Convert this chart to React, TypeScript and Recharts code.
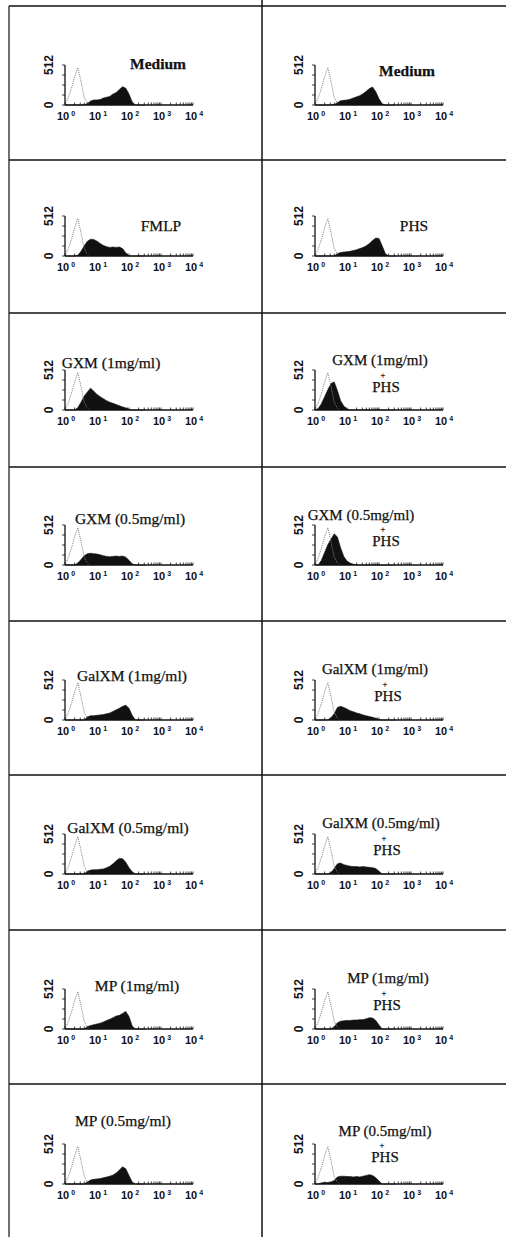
import { Area, ComposedChart, Line, XAxis, YAxis } from "recharts";

// fluorescence channel, in decades (10^x)
const bins = [0, 0.1, 0.2, 0.3, 0.4, 0.5, 0.6, 0.7, 0.8, 0.9, 1.0, 1.1, 1.2, 1.3, 1.4, 1.5, 1.6, 1.7, 1.8, 1.9, 2.0, 2.1, 2.2, 2.3, 2.4, 2.5];

// dotted control histogram, drawn in every panel
const isotype = [5, 90, 210, 360, 480, 300, 100, 20, 0, null, null, null, null, null, null, null, null, null, null, null, null, null, null, null, null, null];

// filled histograms, left column
const medium = [0, 0, 0, 0, 0, 0, 0, 20, 50, 65, 65, 70, 90, 100, 110, 140, 160, 200, 235, 215, 140, 40, 0, 0, 0, 0];
const fmlp = [0, 0, 0, 0, 10, 60, 130, 190, 215, 210, 190, 160, 135, 120, 110, 115, 110, 115, 95, 40, 0, 0, 0, 0, 0, 0];
const gxm1 = [0, 0, 0, 0, 30, 100, 180, 230, 280, 240, 200, 170, 145, 120, 100, 85, 70, 55, 40, 25, 10, 0, 0, 0, 0, 0];
const gxm05 = [0, 0, 0, 0, 25, 70, 120, 145, 150, 145, 140, 130, 120, 110, 105, 110, 115, 110, 115, 100, 60, 15, 0, 0, 0, 0];
const galxm1 = [0, 0, 0, 0, 0, 0, 0, 40, 55, 55, 60, 65, 70, 80, 90, 110, 130, 150, 175, 190, 150, 60, 0, 0, 0, 0];
const galxm05 = [0, 0, 0, 0, 0, 0, 0, 35, 50, 55, 55, 60, 65, 80, 100, 130, 170, 200, 195, 150, 80, 30, 0, 0, 0, 0];
const mp1 = [0, 0, 0, 0, 0, 0, 0, 30, 45, 55, 65, 75, 90, 110, 125, 145, 165, 175, 200, 225, 160, 40, 0, 0, 0, 0];
const mp05 = [0, 0, 0, 0, 0, 0, 0, 25, 50, 60, 65, 70, 80, 90, 100, 115, 140, 180, 220, 195, 110, 25, 0, 0, 0, 0];

// filled histograms, right column
const mediumB = [0, 0, 0, 0, 0, 0, 5, 30, 55, 60, 65, 75, 90, 105, 120, 145, 175, 210, 230, 170, 80, 15, 0, 0, 0, 0];
const phs = [0, 0, 0, 0, 0, 0, 0, 30, 45, 50, 55, 60, 70, 80, 95, 110, 130, 160, 200, 230, 225, 130, 30, 0, 0, 0];
const gxm1Phs = [0, 20, 80, 170, 260, 340, 360, 250, 120, 50, 15, 0, 0, 0, 0, 0, 0, 0, 0, 0, 0, 0, 0, 0, 0, 0];
const gxm05Phs = [0, 0, 60, 160, 260, 330, 400, 360, 220, 110, 50, 25, 10, 0, 0, 0, 0, 0, 0, 0, 0, 0, 0, 0, 0, 0];
const galxm1Phs = [0, 0, 0, 0, 0, 30, 80, 160, 175, 160, 140, 120, 105, 90, 80, 65, 55, 45, 35, 20, 5, 0, 0, 0, 0, 0];
const galxm05Phs = [0, 0, 0, 0, 0, 20, 70, 130, 140, 120, 110, 100, 95, 95, 90, 95, 90, 85, 80, 70, 35, 0, 0, 0, 0, 0];
const mp1Phs = [0, 0, 0, 0, 0, 0, 30, 80, 100, 105, 110, 110, 115, 115, 120, 120, 130, 145, 140, 110, 50, 0, 0, 0, 0, 0];
const mp05Phs = [0, 0, 15, 20, 20, 25, 45, 90, 100, 100, 95, 95, 90, 95, 90, 100, 110, 120, 110, 80, 40, 0, 0, 0, 0, 0];

const leftTitles = ["Medium", "FMLP", "GXM (1mg/ml)", "GXM (0.5mg/ml)", "GalXM (1mg/ml)", "GalXM (0.5mg/ml)", "MP (1mg/ml)", "MP (0.5mg/ml)"];
const rightTitles = ["Medium", "PHS", "GXM (1mg/ml)", "GXM (0.5mg/ml)", "GalXM (1mg/ml)", "GalXM (0.5mg/ml)", "MP (1mg/ml)", "MP (0.5mg/ml)"];
const leftSeries = [medium, fmlp, gxm1, gxm05, galxm1, galxm05, mp1, mp05];
const rightSeries = [mediumB, phs, gxm1Phs, gxm05Phs, galxm1Phs, galxm05Phs, mp1Phs, mp05Phs];

const decades = [0, 1, 2, 3, 4];
const minorSteps = [2, 3, 4, 5, 6, 7, 8, 9];
const xTicks = [...decades, ...decades.slice(0, 4).flatMap((d) => minorSteps.map((k) => d + Math.log10(k)))];
const yTicks = [0, 128, 256, 384, 512];

// layout (px, page coordinates)
const rowTops = [6, 160, 313, 467, 621, 775, 930, 1084];
const baselines = [105, 256, 410, 565, 720, 874, 1029, 1184];
const axisX = [65, 315];
const leftTitlePos = [[158, 63], [161, 225], [111, 362], [130, 518], [132, 675], [128, 827], [137, 985], [123, 1120]];
const rightTitlePos = [[407, 70], [414, 225], [380, 360], [361, 515], [375, 669], [381, 823], [388, 978], [385, 1131]];
const phsPos = [null, null, [386, 387], [386, 541], [388, 696], [387, 850], [387, 1005], [385, 1157]];

const INK = "#111";

function XTick(props: any) {
  const { x, y, payload } = props;
  const v = payload.value;
  if (!Number.isInteger(v)) return <g />;
  return (
    <text x={x + 1} y={y + 15.5} textAnchor="middle" fontFamily="Liberation Sans, Arial" fontWeight="bold" fontSize={11} fill={INK}>
      10
      <tspan dx={2} dy={-4.5} fontSize={7}>
        {v}
      </tspan>
    </text>
  );
}

function YTick(props: any) {
  const { x, y, payload } = props;
  const v = payload.value;
  if (v !== 0 && v !== 512) return <g />;
  const tx = x - 7;
  return (
    <text x={tx} y={y} transform={`rotate(-90 ${tx} ${y})`} textAnchor="middle" fontFamily="Liberation Sans, Arial" fontWeight="bold" fontSize={12} fill={INK}>
      {v}
    </text>
  );
}

function Histo({ values, x0, base }: { values: number[]; x0: number; base: number }) {
  const data = bins.map((b, i) => ({ b, v: values[i], c: isotype[i] }));
  return (
    <div style={{ position: "absolute", left: x0 - 28, top: base - 54 }}>
      <ComposedChart width={170} height={78} data={data} margin={{ top: 14, right: 14, left: 0, bottom: 0 }}>
        <XAxis
          dataKey="b"
          type="number"
          domain={[0, 4]}
          ticks={xTicks}
          interval={0}
          tickSize={-2.5}
          tickLine={{ stroke: INK, strokeWidth: 0.8 }}
          axisLine={{ stroke: INK, strokeWidth: 1.3 }}
          tick={XTick}
          height={24}
        />
        <YAxis
          type="number"
          domain={[0, 512]}
          ticks={yTicks}
          interval={0}
          tickSize={3}
          tickMargin={2}
          width={28}
          tick={YTick}
          axisLine={{ stroke: INK, strokeWidth: 1.3 }}
          tickLine={{ stroke: INK, strokeWidth: 0.8 }}
        />
        <Area dataKey="v" type="linear" fill={INK} fillOpacity={1} stroke={INK} strokeWidth={0.6} isAnimationActive={false} />
        <Line dataKey="c" type="linear" stroke="#808080" strokeWidth={1} strokeDasharray="1 1" dot={false} isAnimationActive={false} />
      </ComposedChart>
    </div>
  );
}

const titleFont = { fontFamily: "Liberation Serif, Times New Roman, serif", fill: INK, stroke: INK, strokeWidth: 0.25 };

export default function App() {
  return (
    <div style={{ position: "absolute", left: 0, top: 0, width: 506, height: 1237, background: "#fff", overflow: "hidden" }}>
      {rowTops.map((_, r) => (
        <div key={r}>
          <Histo values={leftSeries[r]} x0={axisX[0]} base={baselines[r]} />
          <Histo values={rightSeries[r]} x0={axisX[1]} base={baselines[r]} />
        </div>
      ))}
      <svg width={506} height={1237} style={{ position: "absolute", left: 0, top: 0, pointerEvents: "none" }}>
        {rowTops.map((y, r) => (
          <line key={`h${r}`} x1={9} x2={506} y1={y} y2={y} stroke={INK} strokeWidth={1.5} />
        ))}
        <line x1={9} x2={9} y1={6} y2={1237} stroke={INK} strokeWidth={1.2} />
        <line x1={262} x2={262} y1={0} y2={1237} stroke={INK} strokeWidth={1.5} />
        {leftTitles.map((t, r) => (
          <text key={`lt${r}`} x={leftTitlePos[r][0]} y={leftTitlePos[r][1]} textAnchor="middle" dominantBaseline="central" fontSize={15.5} fontWeight={r === 0 ? "bold" : "normal"} {...titleFont}>
            {t}
          </text>
        ))}
        {rightTitles.map((t, r) => (
          <text key={`rt${r}`} x={rightTitlePos[r][0]} y={rightTitlePos[r][1]} textAnchor="middle" dominantBaseline="central" fontSize={r > 1 ? 15 : 15.5} fontWeight={r === 0 ? "bold" : "normal"} {...titleFont}>
            {t}
          </text>
        ))}
        {phsPos.map((p, r) =>
          p ? (
            <g key={`p${r}`}>
              <text x={p[0] - 3} y={(rightTitlePos[r][1] + p[1]) / 2 + 1} textAnchor="middle" dominantBaseline="central" fontSize={8.5} {...titleFont}>
                +
              </text>
              <text x={p[0]} y={p[1]} textAnchor="middle" dominantBaseline="central" fontSize={15} {...titleFont}>
                PHS
              </text>
            </g>
          ) : null
        )}
      </svg>
    </div>
  );
}
